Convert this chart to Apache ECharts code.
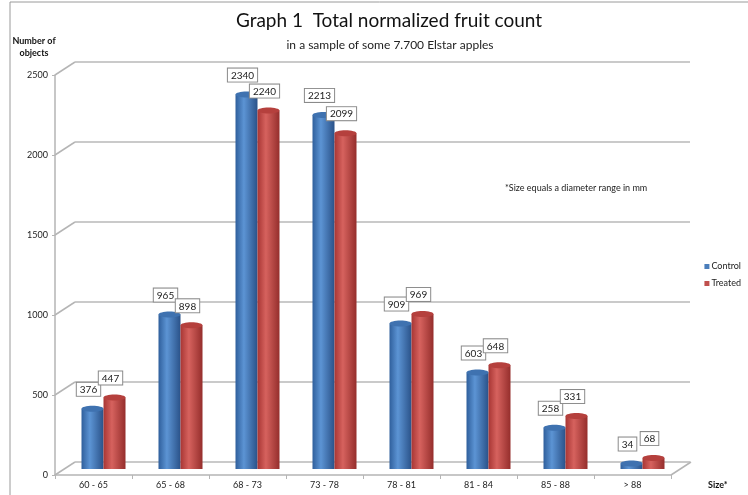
<!DOCTYPE html>
<html>
<head>
<meta charset="utf-8">
<script src="https://cdn.jsdelivr.net/npm/echarts@6/dist/echarts.min.js"></script>
<style>
  html, body { margin: 0; padding: 0; background: #fff; }
  #myChart { width: 748px; height: 495px; }
</style>
</head>
<body>
<div id="myChart"></div>
<script>
// size classes (mm)
var sizeCategories = ["60 - 65", "65 - 68", "68 - 73", "73 - 78", "78 - 81", "81 - 84", "85 - 88", "> 88"];
// normalized fruit counts
var controlData = [376, 965, 2340, 2213, 909, 603, 258, 34];
var treatedData = [447, 898, 2240, 2099, 969, 648, 331, 68];
// value axis ticks
var yTicks = [0, 500, 1000, 1500, 2000, 2500];

var FONT = "Lato, 'DejaVu Sans', sans-serif";
var BAR_W = 22;
var myChart = echarts.init(document.getElementById("myChart"));

function cylinder(dark, light, edge) {
  return new echarts.graphic.LinearGradient(0, 0, 1, 0, [
    { offset: 0, color: dark },
    { offset: 0.38, color: light },
    { offset: 1, color: edge }
  ]);
}

// ellipse on top of each cylinder, carrying the value box
function capSeries(values, dx, fill) {
  return {
    type: "custom",
    xAxisIndex: 0,
    yAxisIndex: 0,
    silent: true,
    data: values.map(function (v, i) { return [i, v]; }),
    renderItem: function (params, api) {
      var p = api.coord([api.value(0), api.value(1)]);
      return {
        type: "group",
        children: [
          {
            type: "ellipse",
            shape: { cx: p[0] + dx, cy: p[1], rx: BAR_W / 2, ry: 3 },
            style: { fill: fill },
            z2: 1
          },
          {
            type: "text",
            x: p[0] + dx - 4,
            y: p[1] - 13,
            z2: 10,
            style: {
              text: String(api.value(1)),
              align: "center",
              verticalAlign: "bottom",
              fill: "#222",
              font: "10px " + FONT,
              backgroundColor: "#fff",
              borderColor: "#8a8a8a",
              borderWidth: 1,
              padding: [2, 3, 1, 3]
            }
          }
        ]
      };
    },
    z: 4
  };
}

myChart.setOption({
  animation: false,
  title: [
    {
      text: "Graph 1  Total normalized fruit count",
      left: 384,
      textAlign: "center",
      top: 6,
      textStyle: { fontFamily: FONT, fontSize: 19, fontWeight: "normal", color: "#111" }
    },
    {
      text: "in a sample of some 7.700 Elstar apples",
      left: 385,
      textAlign: "center",
      top: 34,
      textStyle: { fontFamily: FONT, fontSize: 12, fontWeight: "normal", color: "#222" }
    },
    {
      text: "Number of\nobjects",
      left: 29,
      top: 30,
      textAlign: "center",
      textStyle: { fontFamily: FONT, fontSize: 9, fontWeight: "bold", color: "#111", lineHeight: 12, align: "center" }
    },
    {
      text: "*Size equals a diameter range in mm",
      left: 500,
      top: 179,
      textStyle: { fontFamily: FONT, fontSize: 9, fontWeight: "normal", color: "#222" }
    },
    {
      text: "Size*",
      left: 703,
      top: 476,
      textStyle: { fontFamily: FONT, fontSize: 9, fontWeight: "bold", color: "#111" }
    }
  ],
  legend: {
    orient: "vertical",
    right: 2,
    top: 257,
    itemWidth: 5,
    itemHeight: 5,
    itemGap: 8,
    icon: "rect",
    textStyle: { fontFamily: FONT, fontSize: 9, color: "#222", padding: [0, 0, 0, -3] },
    data: [
      { name: "Control", itemStyle: { color: "#4a7ebb" } },
      { name: "Treated", itemStyle: { color: "#c0504d" } }
    ]
  },
  graphic: [
    {
      type: "rect",
      shape: { x: 10, y: 2, width: 800, height: 560 },
      style: { fill: "none", stroke: "#9a9a9a", lineWidth: 1 },
      silent: true
    }
  ],
  grid: [
    // bars
    { left: 65, right: 67, top: 69, bottom: 26 },
    // back wall gridlines
    { left: 75, right: 58, top: 62, bottom: 33 },
    // front axes
    { left: 55, right: 77, top: 75, bottom: 20 }
  ],
  xAxis: [
    { gridIndex: 0, type: "category", data: sizeCategories, show: false },
    { gridIndex: 1, type: "category", data: sizeCategories, show: false },
    {
      gridIndex: 2,
      type: "category",
      data: sizeCategories,
      axisLine: { lineStyle: { color: "#b5b5b5", width: 1.5 } },
      axisTick: { show: true, length: 4, lineStyle: { color: "#b5b5b5" } },
      axisLabel: { color: "#222", fontFamily: FONT, fontSize: 9, margin: 6 }
    }
  ],
  yAxis: [
    { gridIndex: 0, type: "value", min: 0, max: 2500, show: false },
    {
      gridIndex: 1,
      type: "value",
      min: 0,
      max: 2500,
      interval: 500,
      axisLine: { show: false },
      axisTick: { show: false },
      axisLabel: { show: false },
      splitLine: { show: true, lineStyle: { color: "#b9b9b9", width: 1.5 } }
    },
    {
      gridIndex: 2,
      type: "value",
      min: 0,
      max: 2500,
      interval: 500,
      axisLine: { show: true, lineStyle: { color: "#b5b5b5", width: 1.5 } },
      axisTick: { show: true, length: 3, lineStyle: { color: "#b5b5b5" } },
      axisLabel: {
        color: "#222",
        fontFamily: FONT,
        fontSize: 9,
        margin: 7,
        formatter: function (v) { return String(v); }
      },
      splitLine: { show: false }
    }
  ],
  series: [
    {
      name: "Control",
      type: "bar",
      xAxisIndex: 0,
      yAxisIndex: 0,
      barWidth: BAR_W,
      barGap: "0%",
      data: controlData,
      itemStyle: { color: cylinder("#2f5f9c", "#5c94d4", "#2a5289") },
      z: 3
    },
    {
      name: "Treated",
      type: "bar",
      xAxisIndex: 0,
      yAxisIndex: 0,
      barWidth: BAR_W,
      barGap: "0%",
      data: treatedData,
      itemStyle: { color: cylinder("#a83634", "#d6625e", "#952e2c") },
      z: 3
    },
    capSeries(controlData, -BAR_W / 2, "#3f72b0"),
    capSeries(treatedData, BAR_W / 2, "#b5403d"),
    {
      // 3D perspective connectors from front axis to back wall
      type: "custom",
      xAxisIndex: 2,
      yAxisIndex: 2,
      silent: true,
      data: yTicks.map(function (v) { return [0, v]; }),
      renderItem: function (params, api) {
        var cs = params.coordSys;
        var p = api.coord([0, api.value(1)]);
        var children = [{
          type: "line",
          shape: { x1: cs.x, y1: p[1], x2: cs.x + 20, y2: p[1] - 13 },
          style: { stroke: "#b5b5b5", lineWidth: 1.5 }
        }];
        if (api.value(1) === 0) {
          children.push({
            type: "line",
            shape: { x1: cs.x + cs.width, y1: p[1], x2: cs.x + cs.width + 20, y2: p[1] - 13 },
            style: { stroke: "#b5b5b5", lineWidth: 1.5 }
          });
        }
        return { type: "group", children: children };
      },
      z: 1
    }
  ]
});
</script>
</body>
</html>
